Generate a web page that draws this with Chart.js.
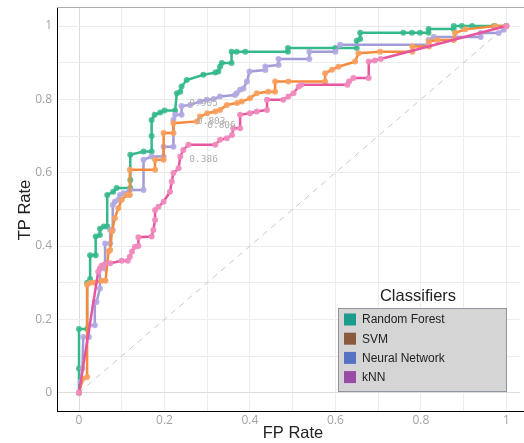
<!DOCTYPE html>
<html>
<head>
<meta charset="utf-8">
<title>ROC Classifiers</title>
<script src="https://cdn.jsdelivr.net/npm/chart.js@4.4.1/dist/chart.umd.min.js"></script>
<style>
  html, body { margin: 0; padding: 0; background: #ffffff; }
  #myChart { display: block; }
</style>
</head>
<body>
<canvas id="myChart" width="524" height="443"></canvas>
<script>
// Les courbes ROC (taux de faux positifs / vrais positifs)
const rfFpr = [0,0,0,0.019,0.019,0.026,0.026,0.039,0.039,0.049,0.049,0.058,0.066,0.066,0.08,0.088,0.12,0.12,0.12,0.151,0.17,0.17,0.17,0.177,0.19,0.2,0.225,0.229,0.237,0.24,0.252,0.291,0.319,0.326,0.33,0.334,0.357,0.357,0.369,0.389,0.489,0.489,0.6,0.65,0.65,0.658,0.658,0.759,0.779,0.798,0.818,0.818,0.877,0.877,0.896,0.92,0.971,1];
const rfTpr = [0,0.066,0.174,0.174,0.3,0.31,0.375,0.375,0.426,0.43,0.447,0.453,0.453,0.539,0.548,0.558,0.558,0.58,0.649,0.658,0.658,0.7,0.744,0.758,0.764,0.77,0.77,0.817,0.821,0.835,0.853,0.867,0.873,0.876,0.889,0.899,0.899,0.93,0.93,0.93,0.93,0.94,0.94,0.94,0.96,0.965,0.982,0.982,0.982,0.982,0.982,0.992,0.992,1,1,1,1,1];

const svmFpr = [0,0.009,0.019,0.019,0.026,0.037,0.053,0.062,0.069,0.073,0.077,0.084,0.092,0.1,0.112,0.119,0.119,0.178,0.178,0.198,0.198,0.221,0.221,0.276,0.283,0.3,0.319,0.33,0.346,0.37,0.381,0.4,0.416,0.443,0.459,0.459,0.49,0.576,0.576,0.592,0.607,0.646,0.654,0.705,0.78,0.78,0.819,0.819,0.838,0.877,0.88,0.904,0.974,1];
const svmTpr = [0,0.038,0.043,0.295,0.3,0.3,0.305,0.305,0.385,0.389,0.44,0.476,0.503,0.526,0.539,0.539,0.608,0.608,0.635,0.635,0.708,0.708,0.735,0.74,0.753,0.762,0.767,0.771,0.785,0.79,0.794,0.803,0.817,0.821,0.821,0.849,0.849,0.849,0.871,0.881,0.889,0.903,0.926,0.93,0.93,0.944,0.944,0.958,0.962,0.962,0.981,0.991,1,1];

const nnFpr = [0,0.004,0.008,0.01,0.023,0.023,0.037,0.037,0.041,0.049,0.049,0.061,0.061,0.073,0.073,0.079,0.079,0.084,0.092,0.096,0.104,0.119,0.151,0.151,0.17,0.198,0.198,0.221,0.221,0.225,0.24,0.24,0.26,0.283,0.299,0.315,0.33,0.365,0.369,0.377,0.385,0.393,0.399,0.436,0.436,0.467,0.467,0.539,0.539,0.6,0.611,0.818,0.818,0.83,0.94,0.94,0.982,0.994,1];
const nnTpr = [0,0.03,0.066,0.152,0.152,0.184,0.184,0.247,0.247,0.284,0.338,0.338,0.407,0.407,0.444,0.444,0.512,0.521,0.526,0.539,0.544,0.553,0.553,0.635,0.644,0.644,0.671,0.671,0.744,0.758,0.758,0.782,0.785,0.794,0.799,0.801,0.808,0.812,0.817,0.826,0.83,0.849,0.876,0.88,0.89,0.894,0.91,0.91,0.93,0.93,0.949,0.949,0.962,0.97,0.97,0.981,0.981,0.99,1];

const knnFpr = [0,0.045,0.049,0.053,0.06,0.073,0.1,0.114,0.119,0.124,0.131,0.139,0.139,0.17,0.174,0.178,0.178,0.186,0.198,0.213,0.217,0.221,0.233,0.237,0.244,0.256,0.319,0.33,0.346,0.358,0.361,0.377,0.377,0.4,0.416,0.44,0.44,0.478,0.49,0.502,0.514,0.52,0.628,0.632,0.642,0.678,0.678,0.692,0.706,1];
const knnTpr = [0,0.33,0.339,0.346,0.35,0.353,0.36,0.36,0.371,0.385,0.398,0.4,0.424,0.426,0.444,0.471,0.498,0.507,0.521,0.548,0.576,0.599,0.612,0.644,0.662,0.676,0.676,0.69,0.694,0.703,0.721,0.721,0.758,0.762,0.767,0.771,0.799,0.799,0.808,0.817,0.835,0.84,0.84,0.849,0.858,0.858,0.903,0.906,0.91,1];

// Ligne de hasard
const chanceFpr = [0, 1];
const chanceTpr = [0, 1];

// Graduations des axes
const tickValues = [0, 0.1, 0.2, 0.3, 0.4, 0.5, 0.6, 0.7, 0.8, 0.9, 1];

// Etiquettes AUC
const aucText = ['0.905', '0.803', '0.806', '0.386'];
const aucFpr = [0.258, 0.276, 0.300, 0.258];
const aucTpr = [0.788, 0.739, 0.728, 0.635];

// Légende
const legendTitle = 'Classifiers';
const legendNames = ['Random Forest', 'SVM', 'Neural Network', 'kNN'];
const legendColors = ['#1c9c8e', '#8b5a3e', '#5573c2', '#9a4ba6'];

function toPoints(xs, ys) {
    return xs.map((x, i) => ({ x: x, y: ys[i] }));
}

function rocDataset(label, xs, ys, color, pointColor, order) {
    return {
        label: label,
        data: toPoints(xs, ys),
        showLine: true,
        borderColor: color,
        borderWidth: 2.5,
        pointRadius: 3,
        pointBorderWidth: 0,
        pointBackgroundColor: pointColor,
        order: order
    };
}

// Dessin du cadre, des titres d'axes, des AUC et de la légende
const decorPlugin = {
    id: 'decor',
    afterDatasetsDraw(chart) {
        const c = chart.ctx;
        const xs = chart.scales.x;
        const ys = chart.scales.y;
        c.save();
        c.font = '9.5px "DejaVu Sans Mono"';
        c.fillStyle = '#acacac';
        c.textAlign = 'left';
        c.textBaseline = 'middle';
        aucText.forEach((t, i) => {
            c.fillText(t, xs.getPixelForValue(aucFpr[i]), ys.getPixelForValue(aucTpr[i]));
        });
        c.restore();
    },
    afterDraw(chart) {
        const c = chart.ctx;
        const area = chart.chartArea;
        c.save();

        // bordure du haut, et axe du bas prolongé jusqu'au bord
        c.lineWidth = 1;
        c.strokeStyle = '#a9adb2';
        c.beginPath();
        c.moveTo(area.left, area.top + 0.5);
        c.lineTo(chart.width, area.top + 0.5);
        c.stroke();
        c.strokeStyle = '#000000';
        c.beginPath();
        c.moveTo(area.right - 1, area.bottom + 0.5);
        c.lineTo(chart.width, area.bottom + 0.5);
        c.stroke();

        // titres des axes
        c.fillStyle = '#222222';
        c.font = '16.5px "Liberation Sans"';
        c.textAlign = 'center';
        c.textBaseline = 'middle';
        c.fillText('FP Rate', 293, 433);
        c.save();
        c.translate(25, 210);
        c.rotate(-Math.PI / 2);
        c.fillText('TP Rate', 0, 0);
        c.restore();

        // légende
        c.fillText(legendTitle, 418, 296);
        c.fillStyle = '#d5d5d5';
        c.fillRect(338, 308, 169, 84);
        c.strokeStyle = '#8e949b';
        c.strokeRect(338.5, 308.5, 168, 83);
        c.font = '12px "Liberation Sans"';
        c.textAlign = 'left';
        legendNames.forEach((name, i) => {
            const y = 319.5 + i * 19.2;
            c.fillStyle = legendColors[i];
            c.fillRect(344, y - 6, 12, 12);
            c.fillStyle = '#222222';
            c.fillText(name, 362, y + 0.5);
        });
        c.restore();
    }
};

let myChart;

document.addEventListener('DOMContentLoaded', function() {
    const ctx = document.getElementById('myChart').getContext('2d');

    const gridColor = function(context) {
        const v = context.tick ? context.tick.value : 1;
        if (Math.abs(v) < 1e-9) return '#dcdcdc';
        return '#ececec';
    };

    const tickLabel = function(value) {
        const n = Math.round(value * 10);
        if (n % 2 !== 0) return '';
        return String(n / 10);
    };

    myChart = new Chart(ctx, {
        type: 'scatter',
        data: {
            datasets: [
                {
                    label: 'chance',
                    data: toPoints(chanceFpr, chanceTpr),
                    showLine: true,
                    borderColor: '#c9c9c9',
                    borderWidth: 1,
                    borderDash: [6, 5],
                    pointRadius: 0,
                    order: 5
                },
                rocDataset('Random Forest', rfFpr, rfTpr, '#35b88c', 'rgba(53, 184, 140, 0.85)', 4),
                rocDataset('Neural Network', nnFpr, nnTpr, '#a19bd7', 'rgba(178, 170, 226, 0.9)', 3),
                rocDataset('SVM', svmFpr, svmTpr, '#f6893b', 'rgba(248, 160, 95, 0.9)', 2),
                rocDataset('kNN', knnFpr, knnTpr, '#e8549e', 'rgba(240, 140, 190, 0.95)', 1)
            ]
        },
        options: {
            responsive: false,
            animation: false,
            devicePixelRatio: 1,
            layout: {
                padding: { top: 7, left: 0, right: 0, bottom: 0 }
            },
            scales: {
                x: {
                    type: 'linear',
                    min: -0.0515,
                    max: 1.032,
                    afterFit: function(scale) {
                        scale.height = 32;
                        scale.paddingLeft = 0;
                        scale.paddingRight = 0;
                    },
                    afterBuildTicks: function(scale) {
                        scale.ticks = tickValues.map(v => ({ value: v }));
                    },
                    grid: { color: gridColor, drawTicks: false },
                    border: { color: '#000000', width: 1 },
                    ticks: {
                        padding: 2,
                        color: '#a3a3a3',
                        font: { family: 'Open Sans', size: 12 },
                        maxRotation: 0,
                        autoSkip: false,
                        callback: tickLabel
                    }
                },
                y: {
                    type: 'linear',
                    min: -0.05,
                    max: 1.052,
                    afterFit: function(scale) {
                        scale.width = 57;
                        scale.paddingTop = 0;
                        scale.paddingBottom = 0;
                    },
                    afterBuildTicks: function(scale) {
                        scale.ticks = tickValues.map(v => ({ value: v }));
                    },
                    grid: { color: gridColor, drawTicks: false },
                    border: { color: '#000000', width: 1 },
                    ticks: {
                        padding: 5,
                        color: '#a3a3a3',
                        font: { family: 'Open Sans', size: 12 },
                        autoSkip: false,
                        callback: tickLabel
                    }
                }
            },
            plugins: {
                legend: { display: false },
                tooltip: { enabled: false }
            }
        },
        plugins: [decorPlugin]
    });
});
</script>
</body>
</html>
